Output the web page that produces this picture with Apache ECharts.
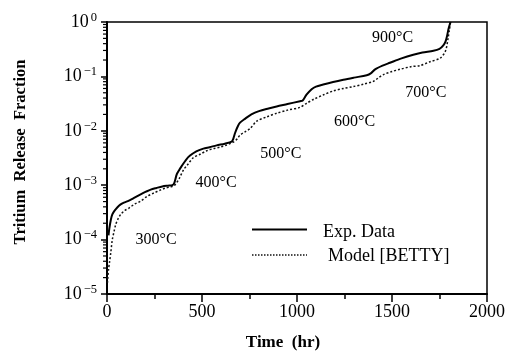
<!DOCTYPE html>
<html>
<head>
<meta charset="utf-8">
<script src="https://cdn.jsdelivr.net/npm/echarts@6/dist/echarts.min.js"></script>
<style>html,body{margin:0;padding:0;background:#fff;}#c{width:508px;height:357px;}</style>
</head>
<body>
<div id="c"></div>
<script>
// Experimental data: time (hr) and tritium release fraction
var expTime = [8, 12, 20, 28, 40, 54, 70, 89, 110, 140, 177, 205, 230, 260, 291, 320, 344, 355, 367, 380, 393, 415, 437, 470, 507, 540, 577, 620, 656, 665, 674, 688, 700, 726, 760, 800, 850, 893, 950, 1016, 1030, 1050, 1077, 1100, 1138, 1190, 1244, 1300, 1367, 1390, 1411, 1450, 1489, 1550, 1612, 1660, 1718, 1750, 1770, 1782, 1790, 1798, 1808];
var expFrac = [1.2e-4, 1.58e-4, 2.3e-4, 2.9e-4, 3.4e-4, 3.9e-4, 4.4e-4, 4.8e-4, 5.1e-4, 5.8e-4, 6.8e-4, 7.6e-4, 8.3e-4, 8.9e-4, 9.5e-4, 9.8e-4, 1.0e-3, 1.12e-3, 1.58e-3, 1.9e-3, 2.24e-3, 2.9e-3, 3.5e-3, 4.2e-3, 4.7e-3, 5.0e-3, 5.4e-3, 5.8e-3, 6.3e-3, 7.2e-3, 9.1e-3, 1.2e-2, 1.41e-2, 1.66e-2, 2.0e-2, 2.3e-2, 2.57e-2, 2.8e-2, 3.1e-2, 3.5e-2, 3.6e-2, 4.6e-2, 5.8e-2, 6.5e-2, 7.1e-2, 7.9e-2, 8.7e-2, 9.5e-2, 0.105, 0.115, 0.135, 0.158, 0.178, 0.214, 0.25, 0.275, 0.295, 0.32, 0.37, 0.44, 0.56, 0.76, 1.0];

// Model [BETTY]
var modelTime = [2, 8, 14, 19, 28, 37, 46, 58, 72, 92, 116, 145, 177, 210, 247, 280, 309, 335, 353, 367, 380, 402, 425, 454, 490, 525, 560, 595, 630, 665, 685, 700, 725, 753, 788, 840, 893, 950, 1016, 1050, 1088, 1140, 1191, 1245, 1296, 1350, 1402, 1430, 1455, 1500, 1542, 1600, 1647, 1700, 1753, 1779, 1788, 1795, 1802, 1808];
var modelFrac = [1.6e-5, 2.8e-5, 4.0e-5, 5.4e-5, 1.0e-4, 1.4e-4, 1.9e-4, 2.4e-4, 2.9e-4, 3.4e-4, 3.8e-4, 4.5e-4, 5.1e-4, 6.2e-4, 7.2e-4, 8.1e-4, 8.9e-4, 9.3e-4, 9.8e-4, 1.12e-3, 1.32e-3, 1.9e-3, 2.4e-3, 3.2e-3, 3.7e-3, 4.3e-3, 4.7e-3, 5.0e-3, 5.5e-3, 6.2e-3, 7.1e-3, 8.3e-3, 9.5e-3, 1.1e-2, 1.5e-2, 1.8e-2, 2.1e-2, 2.4e-2, 2.7e-2, 3.2e-2, 3.8e-2, 4.6e-2, 5.4e-2, 6.0e-2, 6.5e-2, 7.2e-2, 8.1e-2, 9.5e-2, 0.108, 0.123, 0.135, 0.151, 0.158, 0.186, 0.216, 0.28, 0.355, 0.50, 0.71, 1.0];

// Temperature annotations
var tempLabels = ['300°C', '400°C', '500°C', '600°C', '700°C', '900°C'];
var tempTime = [258, 574, 915, 1303, 1678, 1503];
var tempFrac = [1.0e-4, 1.1e-3, 3.8e-3, 1.45e-2, 5.0e-2, 0.51];

// Axes
var xTicks = [0, 500, 1000, 1500, 2000];
var yMinorTicks = [];
[1e-5, 1e-4, 1e-3, 1e-2, 1e-1].forEach(function (d) {
  [2, 3, 4, 5, 6, 7, 8, 9].forEach(function (m) { yMinorTicks.push(m * d); });
});

var seriesNames = ['Exp. Data', 'Model [BETTY]'];
var FONT = 'Liberation Serif';

function zip(a, b) { return a.map(function (v, i) { return [v, b[i]]; }); }

var chart = echarts.init(document.getElementById('c'), null, { renderer: 'canvas' });
chart.setOption({
  animation: false,
  backgroundColor: '#fff',
  grid: { left: 107, right: 21, top: 22, bottom: 63, show: true, borderColor: '#000', borderWidth: 1.5, backgroundColor: 'transparent' },
  xAxis: {
    type: 'value', min: xTicks[0], max: xTicks[xTicks.length - 1], interval: 500,
    name: 'Time  (hr)', nameLocation: 'middle', nameGap: 40,
    nameTextStyle: { fontFamily: FONT, fontSize: 17, fontWeight: 'bold', color: '#000', padding: [0, 28, 0, 0] },
    axisLine: { lineStyle: { color: '#000', width: 2 } },
    axisTick: { inside: false, length: 8, lineStyle: { color: '#000', width: 1.5 } },
    minorTick: { show: true, splitNumber: 2, length: 5, lineStyle: { color: '#000', width: 1.5 } },
    splitLine: { show: false },
    axisLabel: { fontFamily: FONT, fontSize: 18, color: '#000', margin: 9, formatter: function (v) { return String(v); } }
  },
  yAxis: {
    type: 'log', logBase: 10, min: 1e-5, max: 1, interval: 1,
    name: 'Tritium  Release  Fraction', nameLocation: 'middle', nameGap: 78,
    nameTextStyle: { fontFamily: FONT, fontSize: 16.5, fontWeight: 'bold', color: '#000', padding: [0, 0, 0, 12] },
    axisLine: { lineStyle: { color: '#000', width: 2 } },
    axisTick: { inside: false, length: 6, lineStyle: { color: '#000', width: 1.5 } },
    splitLine: { show: false },
    axisLabel: {
      margin: 10,
      formatter: function (v) {
        var e = Math.round(Math.log(v) / Math.LN10);
        return '{b|10}{s|' + (e < 0 ? '\u2212' + (-e) : String(e)) + '}';
      },
      rich: {
        b: { fontFamily: FONT, fontSize: 18, color: '#000', lineHeight: 22 },
        s: { fontFamily: FONT, fontSize: 12.5, color: '#000', lineHeight: 12, verticalAlign: 'top', padding: [0, 0, 0, 2] }
      }
    }
  },
  series: [
    {
      name: seriesNames[0], type: 'line', data: zip(expTime, expFrac), showSymbol: false, smooth: 0.3,
      lineStyle: { color: '#000', width: 2 }, z: 3
    },
    {
      name: seriesNames[1], type: 'line', data: zip(modelTime, modelFrac), showSymbol: false, smooth: 0.3,
      lineStyle: { color: '#111', width: 1.5, type: [2, 2] }, z: 2
    },
    {
      type: 'scatter', symbolSize: 0, silent: true,
      itemStyle: { opacity: 1 },
      data: tempLabels.map(function (n, i) { return { name: n, value: [tempTime[i], tempFrac[i]] }; }),
      label: { show: true, position: 'inside', formatter: '{b}', fontFamily: FONT, fontSize: 16, color: '#000', opacity: 1 }
    },
    {
      type: 'custom', silent: true, clip: false,
      data: yMinorTicks.map(function (v) { return [0, v]; }),
      renderItem: function (params, api) {
        var p = api.coord([api.value(0), api.value(1)]);
        return { type: 'line', shape: { x1: p[0] - 4, y1: p[1], x2: p[0], y2: p[1] }, style: { stroke: '#000', lineWidth: 1.2 } };
      }
    }
  ],
  graphic: [
    { type: 'line', shape: { x1: 252, y1: 229.5, x2: 307, y2: 229.5 }, style: { stroke: '#000', lineWidth: 2 } },
    { type: 'text', x: 323, y: 232, style: { text: seriesNames[0], fontFamily: FONT, fontSize: 18, fill: '#000', textVerticalAlign: 'middle' } },
    { type: 'line', shape: { x1: 252, y1: 255, x2: 307, y2: 255 }, style: { stroke: '#111', lineWidth: 1.3, lineDash: [1.5, 1.5] } },
    { type: 'text', x: 328, y: 256, style: { text: seriesNames[1], fontFamily: FONT, fontSize: 18, fill: '#000', textVerticalAlign: 'middle' } }
  ]
});
</script>
</body>
</html>
